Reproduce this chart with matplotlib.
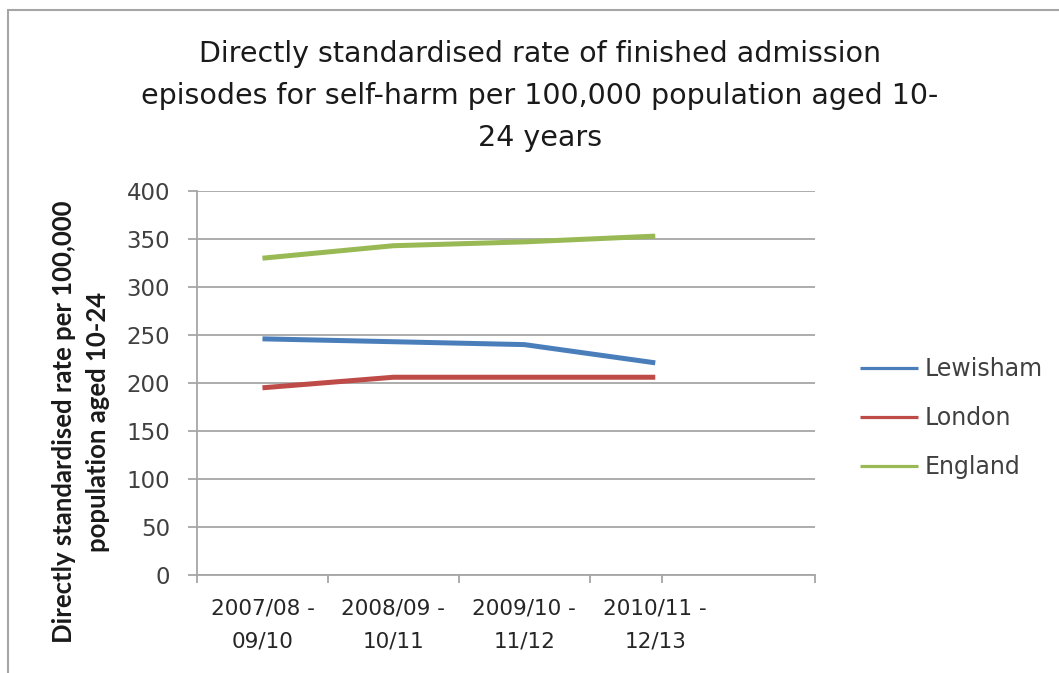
import matplotlib
matplotlib.use("Agg")
import matplotlib.pyplot as plt
from matplotlib.patches import Rectangle

categories = ["2007/08 -\n09/10", "2008/09 -\n10/11", "2009/10 -\n11/12", "2010/11 -\n12/13"]
lewisham = [246, 243, 240, 221]
london = [195, 206, 206, 206]
england = [330, 343, 347, 353]
series_names = ["Lewisham", "London", "England"]
series_colors = ["#4a7ebb", "#be4b48", "#98b954"]
yticks = [0, 50, 100, 150, 200, 250, 300, 350, 400]

plt.rcParams['font.family'] = ['DejaVu Sans']

W, H = 1059, 673
fig = plt.figure(figsize=(W / 100, H / 100), dpi=100)
fig.patch.set_facecolor("white")

# outer chart border
fig.add_artist(Rectangle((8 / W, -0.1), 1.2, 1 - 10 / H + 0.1, transform=fig.transFigure,
                         fill=False, edgecolor="#a6a6a6", linewidth=1.5))

ax = fig.add_axes([197 / W, 1 - 575 / H, (815 - 197) / W, (575 - 191) / H])
x = list(range(len(categories)))
for vals, name, col in zip([lewisham, london, england], series_names, series_colors):
    ax.plot(x, vals, color=col, linewidth=3.6, label=name, solid_capstyle="butt")

ax.set_ylim(0, 400)
ax.set_xlim(-0.5, 4.22)
ax.set_yticks(yticks)
ax.set_yticklabels([str(v) for v in yticks], fontsize=16.5, color="#404040")
ax.yaxis.grid(True, color="#a6a6a6", linewidth=1.3)
ax.set_axisbelow(True)

ax.set_xticks(x)
ax.set_xticklabels(categories, fontsize=15.5, color="#262626", linespacing=1.8)
ax.tick_params(axis="x", length=0, pad=17)
ax.set_xticks([-0.5, 0.5, 1.5, 2.5, 3.05, 4.22], minor=True)
ax.tick_params(axis="x", which="minor", length=6, color="#a6a6a6", width=1.3)
ax.tick_params(axis="y", length=6.5, color="#a6a6a6", width=1.3, pad=13)

for s in ["top", "right"]:
    ax.spines[s].set_visible(False)
for s in ["left", "bottom"]:
    ax.spines[s].set_color("#a6a6a6")
    ax.spines[s].set_linewidth(1.3)

fig.text(81 / W, 1 - 422 / H, "Directly standardised rate per 100,000\npopulation aged 10-24",
         rotation=90, ha="center", va="center", fontsize=18.5, fontweight="bold",
         family=["Lato", "DejaVu Sans"], color="#1a1a1a", linespacing=1.45)

fig.text(540 / W, 1 - 96 / H,
         "Directly standardised rate of finished admission\nepisodes for self-harm per 100,000 population aged 10-\n24 years",
         ha="center", va="center", fontsize=20.5, color="#1a1a1a", linespacing=1.62)

leg = ax.legend(loc="center left", bbox_to_anchor=(860 / W, 1 - 418 / H), bbox_transform=fig.transFigure,
                frameon=False, fontsize=17, handlelength=2.45, handletextpad=0.3, labelspacing=1.06,
                borderpad=0, borderaxespad=0)
for t in leg.get_texts():
    t.set_color("#404040")
for h in leg.get_lines():
    h.set_linewidth(2.3)

fig.savefig("out.png", dpi=100)
